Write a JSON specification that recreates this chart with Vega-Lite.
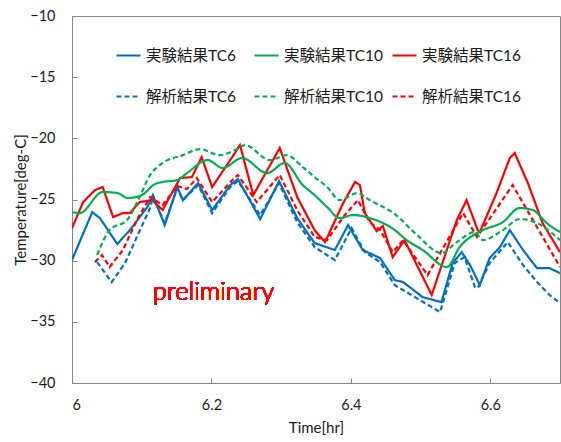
{
  "$schema": "https://vega.github.io/schema/vega-lite/v6.json",
  "width": 488,
  "height": 367,
  "autosize": {"type": "none"},
  "padding": {"left": 72, "top": 16, "right": 1, "bottom": 59},
  "background": "white",
  "config": {
    "view": {"stroke": "#868686", "strokeWidth": 1},
    "font": "Lato",
    "axis": {"grid": false, "domainColor": "#868686", "tickColor": "#868686", "labelColor": "#1a1a1a", "titleColor": "#1a1a1a", "labelFont": "Lato", "titleFont": "Lato", "labelFontSize": 14.5, "titleFontSize": 15, "titleFontWeight": "normal"},
    "legend": {"title": null, "orient": "none", "direction": "horizontal", "legendX": 43, "legendY": 26, "columns": 3, "gridAlign": "all", "columnPadding": 5, "rowPadding": 19, "padding": 0,
        "symbolType": "stroke", "symbolSize": 576, "symbolStrokeWidth": 2.2, "labelFont": "Lato, 'Noto Sans CJK JP'", "labelFontSize": 15.5, "labelColor": "#1a1a1a", "labelOffset": 4, "labelLimit": 200}
  },
  "datasets": {"d": [
    {"s":"実験結果TC6","t":6.000,"v":-29.95},{"s":"実験結果TC6","t":6.009,"v":-28.73},{"s":"実験結果TC6","t":6.029,"v":-26.03},{"s":"実験結果TC6","t":6.040,"v":-26.52},{"s":"実験結果TC6","t":6.065,"v":-28.64},{"s":"実験結果TC6","t":6.083,"v":-27.50},{"s":"実験結果TC6","t":6.108,"v":-25.62},{"s":"実験結果TC6","t":6.116,"v":-24.64},{"s":"実験結果TC6","t":6.133,"v":-27.09},{"s":"実験結果TC6","t":6.151,"v":-23.98},{"s":"実験結果TC6","t":6.159,"v":-25.05},{"s":"実験結果TC6","t":6.181,"v":-23.66},{"s":"実験結果TC6","t":6.201,"v":-25.86},{"s":"実験結果TC6","t":6.227,"v":-23.82},{"s":"実験結果TC6","t":6.238,"v":-23.33},{"s":"実験結果TC6","t":6.270,"v":-26.60},{"s":"実験結果TC6","t":6.297,"v":-23.49},{"s":"実験結果TC6","t":6.323,"v":-26.52},{"s":"実験結果TC6","t":6.348,"v":-28.56},{"s":"実験結果TC6","t":6.377,"v":-29.13},{"s":"実験結果TC6","t":6.396,"v":-27.09},{"s":"実験結果TC6","t":6.417,"v":-29.13},{"s":"実験結果TC6","t":6.442,"v":-29.79},{"s":"実験結果TC6","t":6.463,"v":-31.59},{"s":"実験結果TC6","t":6.475,"v":-31.75},{"s":"実験結果TC6","t":6.503,"v":-32.98},{"s":"実験結果TC6","t":6.530,"v":-33.39},{"s":"実験結果TC6","t":6.546,"v":-30.20},{"s":"実験結果TC6","t":6.559,"v":-29.30},{"s":"実験結果TC6","t":6.571,"v":-30.36},{"s":"実験結果TC6","t":6.585,"v":-32.00},{"s":"実験結果TC6","t":6.599,"v":-29.79},{"s":"実験結果TC6","t":6.614,"v":-28.89},{"s":"実験結果TC6","t":6.628,"v":-27.50},{"s":"実験結果TC6","t":6.647,"v":-29.13},{"s":"実験結果TC6","t":6.667,"v":-30.61},{"s":"実験結果TC6","t":6.685,"v":-30.61},{"s":"実験結果TC6","t":6.700,"v":-31.02},

    {"s":"実験結果TC10","t":6.000,"v":-26.03},{"s":"実験結果TC10","t":6.011,"v":-26.11},{"s":"実験結果TC10","t":6.044,"v":-24.39},{"s":"実験結果TC10","t":6.065,"v":-24.47},{"s":"実験結果TC10","t":6.080,"v":-24.88},{"s":"実験結果TC10","t":6.100,"v":-24.64},{"s":"実験結果TC10","t":6.119,"v":-23.74},{"s":"実験結果TC10","t":6.130,"v":-23.57},{"s":"実験結果TC10","t":6.151,"v":-23.41},{"s":"実験結果TC10","t":6.165,"v":-22.84},{"s":"実験結果TC10","t":6.195,"v":-21.78},{"s":"実験結果TC10","t":6.216,"v":-22.43},{"s":"実験結果TC10","t":6.244,"v":-21.61},{"s":"実験結果TC10","t":6.280,"v":-22.84},{"s":"実験結果TC10","t":6.305,"v":-22.02},{"s":"実験結果TC10","t":6.331,"v":-23.82},{"s":"実験結果TC10","t":6.348,"v":-24.64},{"s":"実験結果TC10","t":6.366,"v":-25.62},{"s":"実験結果TC10","t":6.384,"v":-26.52},{"s":"実験結果TC10","t":6.403,"v":-26.27},{"s":"実験結果TC10","t":6.427,"v":-26.52},{"s":"実験結果TC10","t":6.463,"v":-27.50},{"s":"実験結果TC10","t":6.480,"v":-28.32},{"s":"実験結果TC10","t":6.503,"v":-29.13},{"s":"実験結果TC10","t":6.538,"v":-30.52},{"s":"実験結果TC10","t":6.556,"v":-28.89},{"s":"実験結果TC10","t":6.578,"v":-27.83},{"s":"実験結果TC10","t":6.589,"v":-27.50},{"s":"実験結果TC10","t":6.618,"v":-26.85},{"s":"実験結果TC10","t":6.642,"v":-25.70},{"s":"実験結果TC10","t":6.661,"v":-25.86},{"s":"実験結果TC10","t":6.681,"v":-26.93},{"s":"実験結果TC10","t":6.700,"v":-27.66},

    {"s":"実験結果TC16","t":6.000,"v":-27.34},{"s":"実験結果TC16","t":6.016,"v":-25.21},{"s":"実験結果TC16","t":6.033,"v":-24.23},{"s":"実験結果TC16","t":6.044,"v":-23.98},{"s":"実験結果TC16","t":6.059,"v":-26.44},{"s":"実験結果TC16","t":6.073,"v":-26.11},{"s":"実験結果TC16","t":6.083,"v":-26.11},{"s":"実験結果TC16","t":6.097,"v":-25.21},{"s":"実験結果TC16","t":6.115,"v":-25.05},{"s":"実験結果TC16","t":6.130,"v":-25.86},{"s":"実験結果TC16","t":6.155,"v":-23.25},{"s":"実験結果TC16","t":6.172,"v":-23.17},{"s":"実験結果TC16","t":6.186,"v":-21.53},{"s":"実験結果TC16","t":6.201,"v":-23.98},{"s":"実験結果TC16","t":6.227,"v":-21.78},{"s":"実験結果TC16","t":6.241,"v":-20.55},{"s":"実験結果TC16","t":6.260,"v":-24.64},{"s":"実験結果TC16","t":6.298,"v":-20.79},{"s":"実験結果TC16","t":6.323,"v":-24.80},{"s":"実験結果TC16","t":6.348,"v":-27.50},{"s":"実験結果TC16","t":6.363,"v":-28.48},{"s":"実験結果TC16","t":6.389,"v":-25.29},{"s":"実験結果TC16","t":6.406,"v":-23.57},{"s":"実験結果TC16","t":6.413,"v":-23.82},{"s":"実験結果TC16","t":6.420,"v":-26.11},{"s":"実験結果TC16","t":6.437,"v":-27.58},{"s":"実験結果TC16","t":6.446,"v":-27.17},{"s":"実験結果TC16","t":6.460,"v":-29.71},{"s":"実験結果TC16","t":6.477,"v":-28.32},{"s":"実験結果TC16","t":6.516,"v":-32.81},{"s":"実験結果TC16","t":6.552,"v":-26.68},{"s":"実験結果TC16","t":6.566,"v":-25.05},{"s":"実験結果TC16","t":6.582,"v":-27.50},{"s":"実験結果TC16","t":6.585,"v":-27.66},{"s":"実験結果TC16","t":6.609,"v":-24.47},{"s":"実験結果TC16","t":6.628,"v":-21.61},{"s":"実験結果TC16","t":6.635,"v":-21.20},{"s":"実験結果TC16","t":6.654,"v":-23.66},{"s":"実験結果TC16","t":6.675,"v":-26.93},{"s":"実験結果TC16","t":6.700,"v":-29.30},

    {"s":"解析結果TC6","t":6.036,"v":-30.12},{"s":"解析結果TC6","t":6.057,"v":-31.75},{"s":"解析結果TC6","t":6.076,"v":-30.20},{"s":"解析結果TC6","t":6.093,"v":-28.07},{"s":"解析結果TC6","t":6.112,"v":-25.70},{"s":"解析結果TC6","t":6.116,"v":-24.80},{"s":"解析結果TC6","t":6.133,"v":-26.93},{"s":"解析結果TC6","t":6.151,"v":-24.06},{"s":"解析結果TC6","t":6.159,"v":-25.05},{"s":"解析結果TC6","t":6.181,"v":-23.82},{"s":"解析結果TC6","t":6.201,"v":-26.11},{"s":"解析結果TC6","t":6.227,"v":-23.98},{"s":"解析結果TC6","t":6.238,"v":-23.49},{"s":"解析結果TC6","t":6.270,"v":-26.27},{"s":"解析結果TC6","t":6.297,"v":-23.66},{"s":"解析結果TC6","t":6.323,"v":-26.85},{"s":"解析結果TC6","t":6.348,"v":-28.89},{"s":"解析結果TC6","t":6.377,"v":-29.95},{"s":"解析結果TC6","t":6.401,"v":-27.34},{"s":"解析結果TC6","t":6.420,"v":-29.30},{"s":"解析結果TC6","t":6.442,"v":-30.12},{"s":"解析結果TC6","t":6.463,"v":-32.00},{"s":"解析結果TC6","t":6.499,"v":-33.22},{"s":"解析結果TC6","t":6.528,"v":-34.20},{"s":"解析結果TC6","t":6.549,"v":-30.20},{"s":"解析結果TC6","t":6.563,"v":-29.71},{"s":"解析結果TC6","t":6.578,"v":-32.16},{"s":"解析結果TC6","t":6.582,"v":-32.24},{"s":"解析結果TC6","t":6.599,"v":-30.20},{"s":"解析結果TC6","t":6.625,"v":-28.48},{"s":"解析結果TC6","t":6.647,"v":-30.36},{"s":"解析結果TC6","t":6.667,"v":-31.75},{"s":"解析結果TC6","t":6.685,"v":-32.81},{"s":"解析結果TC6","t":6.700,"v":-33.47},

    {"s":"解析結果TC10","t":6.036,"v":-29.54},{"s":"解析結果TC10","t":6.054,"v":-27.50},{"s":"解析結果TC10","t":6.079,"v":-26.68},{"s":"解析結果TC10","t":6.097,"v":-24.80},{"s":"解析結果TC10","t":6.112,"v":-23.00},{"s":"解析結果TC10","t":6.130,"v":-22.02},{"s":"解析結果TC10","t":6.159,"v":-21.37},{"s":"解析結果TC10","t":6.184,"v":-20.88},{"s":"解析結果TC10","t":6.212,"v":-21.37},{"s":"解析結果TC10","t":6.234,"v":-20.96},{"s":"解析結果TC10","t":6.248,"v":-20.55},{"s":"解析結果TC10","t":6.284,"v":-21.78},{"s":"解析結果TC10","t":6.308,"v":-21.37},{"s":"解析結果TC10","t":6.331,"v":-22.35},{"s":"解析結果TC10","t":6.348,"v":-23.17},{"s":"解析結果TC10","t":6.366,"v":-23.98},{"s":"解析結果TC10","t":6.384,"v":-25.05},{"s":"解析結果TC10","t":6.409,"v":-24.47},{"s":"解析結果TC10","t":6.427,"v":-25.05},{"s":"解析結果TC10","t":6.463,"v":-26.19},{"s":"解析結果TC10","t":6.495,"v":-27.91},{"s":"解析結果TC10","t":6.530,"v":-29.38},{"s":"解析結果TC10","t":6.552,"v":-28.48},{"s":"解析結果TC10","t":6.578,"v":-27.66},{"s":"解析結果TC10","t":6.589,"v":-28.32},{"s":"解析結果TC10","t":6.618,"v":-27.50},{"s":"解析結果TC10","t":6.642,"v":-26.60},{"s":"解析結果TC10","t":6.667,"v":-26.93},{"s":"解析結果TC10","t":6.700,"v":-28.32},

    {"s":"解析結果TC16","t":6.033,"v":-30.12},{"s":"解析結果TC16","t":6.043,"v":-29.54},{"s":"解析結果TC16","t":6.054,"v":-30.52},{"s":"解析結果TC16","t":6.073,"v":-29.13},{"s":"解析結果TC16","t":6.093,"v":-26.68},{"s":"解析結果TC16","t":6.112,"v":-24.80},{"s":"解析結果TC16","t":6.130,"v":-25.45},{"s":"解析結果TC16","t":6.151,"v":-23.90},{"s":"解析結果TC16","t":6.165,"v":-24.15},{"s":"解析結果TC16","t":6.179,"v":-23.25},{"s":"解析結果TC16","t":6.201,"v":-25.21},{"s":"解析結果TC16","t":6.234,"v":-23.17},{"s":"解析結果TC16","t":6.238,"v":-23.00},{"s":"解析結果TC16","t":6.265,"v":-25.21},{"s":"解析結果TC16","t":6.298,"v":-23.00},{"s":"解析結果TC16","t":6.323,"v":-25.86},{"s":"解析結果TC16","t":6.348,"v":-28.07},{"s":"解析結果TC16","t":6.366,"v":-28.32},{"s":"解析結果TC16","t":6.389,"v":-26.44},{"s":"解析結果TC16","t":6.410,"v":-25.05},{"s":"解析結果TC16","t":6.427,"v":-26.85},{"s":"解析結果TC16","t":6.442,"v":-27.50},{"s":"解析結果TC16","t":6.460,"v":-29.30},{"s":"解析結果TC16","t":6.475,"v":-28.32},{"s":"解析結果TC16","t":6.510,"v":-31.18},{"s":"解析結果TC16","t":6.561,"v":-26.11},{"s":"解析結果TC16","t":6.581,"v":-28.07},{"s":"解析結果TC16","t":6.632,"v":-23.82},{"s":"解析結果TC16","t":6.667,"v":-27.25},{"s":"解析結果TC16","t":6.700,"v":-30.52}
  ]},
  "data": {"name": "d"},
  "layer": [
    {
      "transform": [{"filter": "indexof(datum.s, 'TC10') < 0"}],
      "mark": {"type": "line", "strokeWidth": 2.2, "clip": true},
      "encoding": {
        "x": {"field": "t", "type": "quantitative", "scale": {"domain": [6, 6.7], "nice": false, "zero": false},
          "axis": {"title": "Time[hr]", "values": [6, 6.2, 6.4, 6.6], "format": "~g", "tickSize": -5, "labelPadding": 20, "titlePadding": 9}},
        "y": {"field": "v", "type": "quantitative", "scale": {"domain": [-40, -10], "nice": false, "zero": false},
          "axis": {"title": "Temperature[deg-C]", "values": [-40, -35, -30, -25, -20, -15, -10], "tickSize": -5, "labelPadding": 22, "titlePadding": 1}},
        "color": {"field": "s", "type": "nominal",
          "scale": {"domain": ["実験結果TC6", "実験結果TC10", "実験結果TC16", "解析結果TC6", "解析結果TC10", "解析結果TC16"],
                    "range": ["#0070C0", "#00B050", "#FF0000", "#0070C0", "#00B050", "#FF0000"]}},
        "strokeDash": {"field": "s", "type": "nominal",
          "scale": {"domain": ["実験結果TC6", "実験結果TC10", "実験結果TC16", "解析結果TC6", "解析結果TC10", "解析結果TC16"],
                    "range": [[1, 0], [1, 0], [1, 0], [5, 3], [5, 3], [5, 3]]}}
      }
    },
    {
      "transform": [{"filter": "indexof(datum.s, 'TC10') >= 0"}],
      "mark": {"type": "line", "strokeWidth": 2.2, "clip": true, "interpolate": "monotone"},
      "encoding": {
        "x": {"field": "t", "type": "quantitative"},
        "y": {"field": "v", "type": "quantitative"},
        "color": {"field": "s", "type": "nominal"},
        "strokeDash": {"field": "s", "type": "nominal"}
      }
    },
    {
      "mark": {"type": "text", "text": "preliminary", "fill": "#FF0000", "strokeWidth": 0, "fontSize": 25.5, "font": "Lato", "fontWeight": 300, "align": "left", "baseline": "middle"},
      "encoding": {"x": {"datum": 6.116}, "y": {"datum": -32.6}}
    }
  ]
}
